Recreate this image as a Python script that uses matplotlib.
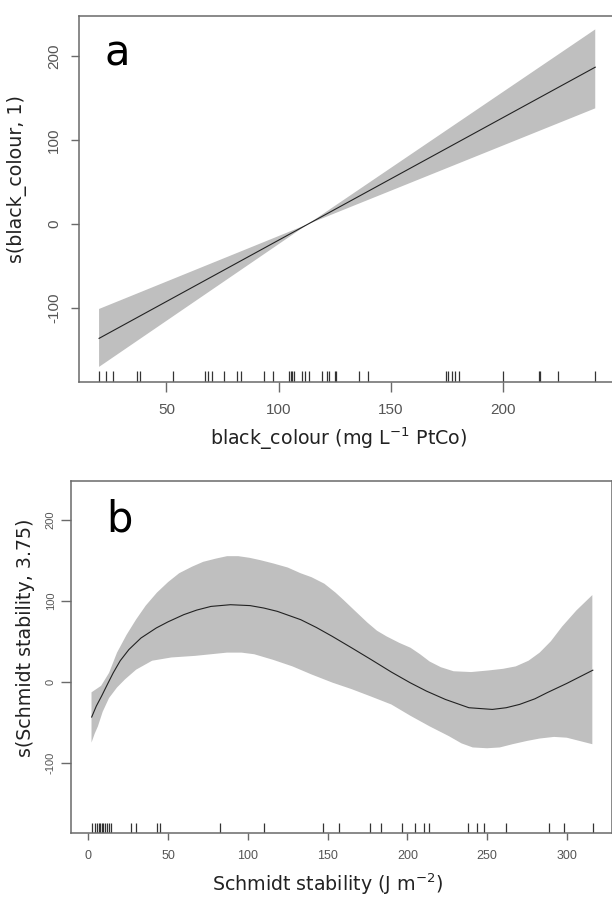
import matplotlib
matplotlib.use("Agg")
import matplotlib.pyplot as plt
import matplotlib.transforms as mtransforms

plt.rcParams['font.family'] = ['DejaVu Sans']
plt.rcParams['mathtext.default'] = 'regular'
plt.rcParams['axes.unicode_minus'] = False

# panel a: linear smooth of black_colour
a_x = [20, 113, 241]
a_fit = [-136, 0, 187]
a_upper = [-101, 0, 232]
a_lower = [-170, 0, 138]
a_rug = [20, 23, 26.1, 37.1, 38.4, 53.1, 67.2, 68.5, 70.4, 75.5, 81.5, 83.4,
         93.3, 97.5, 104.6, 105.4, 106.1, 106.9, 110.5, 111.8, 113.7, 119.5,
         121.5, 122.6, 125, 125.6, 135.6, 139.7, 174.6, 175.4, 177.2, 178.6,
         180.4, 200, 216, 216.6, 224.6, 241]
a_xticks = [50, 100, 150, 200]

# panel b: smooth of Schmidt stability
b_x = [2.1, 5, 8.3, 12, 15.6, 20, 25.4, 33, 42.6, 50, 59.8, 68, 76.9, 89.1,
       101.4, 110, 118.5, 133.2, 143, 152.9, 165, 177.3, 190, 201.8, 212,
       223.9, 238.6, 253.3, 262, 270.4, 280, 287.6, 300, 316.3]
b_fit = [-43.5, -30, -17.7, -3, 11, 26, 39.7, 54, 66.4, 74, 82.8, 88.5, 93,
         95.1, 94, 91, 86.9, 76.6, 67, 56.1, 42, 27.4, 12, -1.2, -11.5,
         -21.8, -32, -34.1, -32, -27.9, -21, -13.5, -2, 14.3]
b_x_up = [2, 8, 13, 18, 24, 30, 36, 43, 50, 57, 65, 72, 80, 87, 94, 101, 108,
          116, 125, 133, 140, 148, 155, 160, 168, 175, 181, 187, 195, 202,
          208, 214, 221, 229, 240, 251, 260, 268, 276, 283, 290, 297, 306,
          316]
b_up = [-13, -5, 11, 36, 58, 77, 94, 110, 123, 134, 142, 148, 152, 155, 155,
        153, 150, 146, 141, 134, 129, 121, 110, 101, 86, 73, 63, 56, 48, 42,
        34, 25, 18, 13, 12, 14, 16, 19, 26, 36, 50, 68, 88, 107]
b_x_lo = [2, 4, 6, 9, 13, 18, 23, 30, 40, 52, 67, 77, 87, 96, 104, 116, 128,
          140, 153, 165, 177, 190, 202, 214, 226, 234, 241, 250, 258, 266,
          275, 283, 292, 300, 308, 316]
b_lo = [-75, -64, -55, -37, -20, -7, 3, 15, 26, 30, 32, 34, 36, 36, 34, 27,
        19, 9, -1, -9, -18, -28, -42, -55, -67, -76, -81, -82, -81, -77, -73,
        -70, -68, -69, -73, -77]
b_rug = [2.2, 4, 5.5, 6.5, 7.5, 8.5, 9.5, 10.5, 11.5, 12.8, 14, 26.6, 29.9,
         43.3, 45, 82.7, 110.3, 147.1, 157.4, 176.8, 183.7, 196.7, 205.1,
         210.3, 213.4, 238.1, 244, 247.8, 261.8, 288.6, 298.4, 316.2]
b_xticks = [0, 50, 100, 150, 200, 250, 300]

yticks = [-100, 0, 100, 200]
band_col = '#bfbfbf'
spine_col = '#6a6a6a'
tick_font = 'Liberation Sans'

fig = plt.figure(figsize=(6.12, 8.98), dpi=100)
ax1 = fig.add_axes([0.1296, 0.5746, 0.8753, 0.4076])
ax2 = fig.add_axes([0.1167, 0.0720, 0.8840, 0.3926])


def style(ax, xlen, ylen, xsize, ysize, xpad, ypad):
    for s in ax.spines.values():
        s.set_color(spine_col)
        s.set_linewidth(1.1)
    ax.tick_params(axis='x', length=xlen, width=1, color=spine_col, pad=xpad,
                   labelsize=xsize, labelcolor='#555555')
    ax.tick_params(axis='y', length=ylen, width=1, color=spine_col, pad=ypad,
                   labelsize=ysize, labelcolor='#555555')
    for lab in ax.get_xticklabels() + ax.get_yticklabels():
        lab.set_fontfamily(tick_font)
    for lab in ax.get_yticklabels():
        lab.set_rotation(90)
        lab.set_va('center')


def rug(ax, vals):
    trans = mtransforms.blended_transform_factory(ax.transData, ax.transAxes)
    ax.vlines(vals, 0, 0.03, transform=trans, color='#333333', linewidth=0.9)


# panel a
ax1.fill(a_x + a_x[::-1], a_upper + a_lower[::-1], color=band_col, lw=0)
ax1.plot(a_x, a_fit, color='#222222', lw=0.8)
rug(ax1, a_rug)
ax1.set_xlim(11.2, 249.8)
ax1.set_ylim(-188, 248)
ax1.set_xticks(a_xticks)
ax1.set_yticks(yticks)
style(ax1, 7.2, 5.8, 11, 11, 8, 7.4)
ax1.set_xlabel('black_colour (mg L$^{-1}$ PtCo)', fontsize=13.7,
               color='#222222', va='center')
ax1.set_ylabel('s(black_colour, 1)', fontsize=13.7, color='#222222',
               va='center')
ax1.xaxis.set_label_coords(0.485, -0.156)
ax1.yaxis.set_label_coords(-0.116, 0.555)
ax1.text(0.07, 0.866, 'a', transform=ax1.transAxes, fontsize=30,
         ha='center', va='baseline', color='black')

# panel b
ax2.fill(b_x_up + b_x_lo[::-1], b_up + b_lo[::-1], color=band_col, lw=0)
ax2.plot(b_x, b_fit, color='#222222', lw=0.8)
rug(ax2, b_rug)
ax2.set_xlim(-10.6, 328.6)
ax2.set_ylim(-187, 248)
ax2.set_xticks(b_xticks)
ax2.set_yticks(yticks)
style(ax2, 5, 7, 9, 8, 7, 4.3)
ax2.set_xlabel('Schmidt stability (J m$^{-2}$)', fontsize=13.7,
               color='#222222', va='center')
ax2.set_ylabel('s(Schmidt stability, 3.75)', fontsize=13.7, color='#222222',
               va='center')
ax2.xaxis.set_label_coords(0.473, -0.145)
ax2.yaxis.set_label_coords(-0.084, 0.554)
ax2.text(0.088, 0.857, 'b', transform=ax2.transAxes, fontsize=30,
         ha='center', va='baseline', color='black')

fig.savefig('out.png', dpi=100)
